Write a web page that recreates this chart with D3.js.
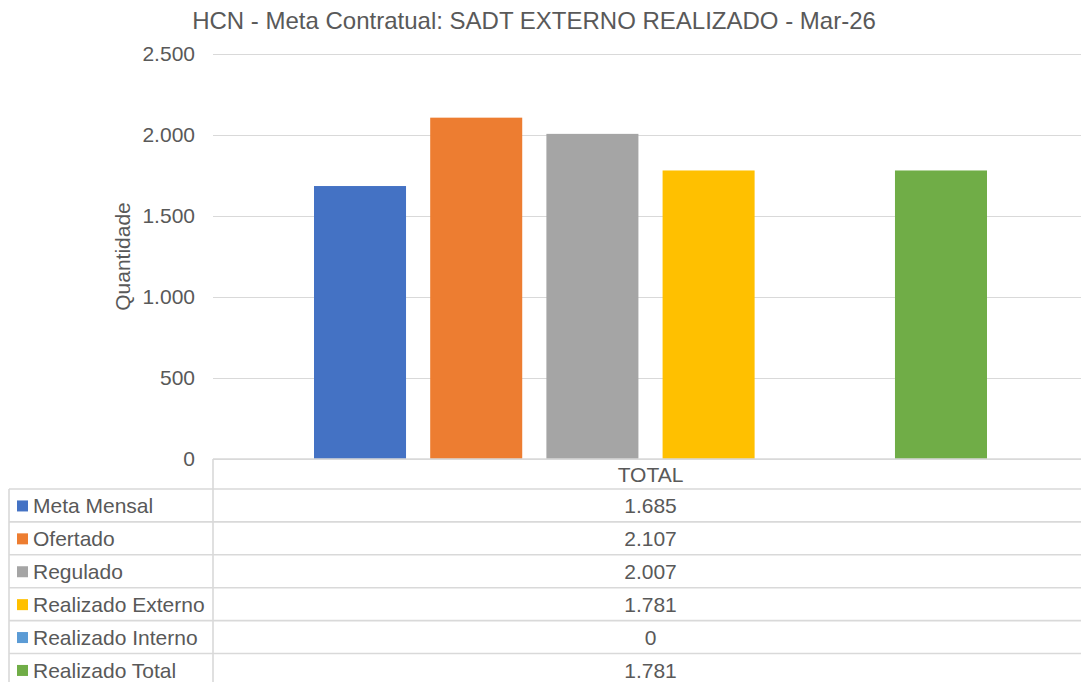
<!DOCTYPE html>
<html><head><meta charset="utf-8">
<script src="https://cdn.jsdelivr.net/npm/d3@7"></script>
<style>
html,body{margin:0;padding:0;background:#fff;}
svg{display:block;font-family:"Liberation Sans",Arial,sans-serif;}
</style></head>
<body><svg id="c" width="1081" height="682"></svg>
<script>
const title = "HCN - Meta Contratual: SADT EXTERNO REALIZADO - Mar-26";
const categories = ["TOTAL"];
const seriesNames = ["Meta Mensal","Ofertado","Regulado","Realizado Externo","Realizado Interno","Realizado Total"];
const seriesValues = [1685, 2107, 2007, 1781, 0, 1781];
const seriesColors = ["#4472C4","#ED7D31","#A5A5A5","#FFC000","#5B9BD5","#70AD47"];
const yTicks = [0,500,1000,1500,2000,2500];
const yTitle = "Quantidade";

const svg = d3.select("#c");
const W=1081, H=682;
const plot = {left:213, right:1088, top:54, bottom:459};
const txt = "#595959", grid="#d9d9d9";
const fs = 21;

const y = d3.scaleLinear().domain([0,2500]).range([plot.bottom, plot.top]);
const x0 = d3.scaleBand().domain(categories).range([plot.left, plot.right]);
const fmt = v => d3.format(",")(v).replace(/,/g,".");

// title
svg.append("text").attr("x",534).attr("y",29).attr("text-anchor","middle")
  .attr("font-size",24).attr("fill",txt).text(title);

// gridlines
const yAxis = d3.axisLeft(y).tickValues(yTicks).tickSize(-(W-plot.left)).tickFormat(fmt).tickPadding(18);
const ga = svg.append("g").attr("transform",`translate(${plot.left},0)`).call(yAxis);
ga.select(".domain").remove();
ga.selectAll(".tick line").attr("stroke",grid).attr("stroke-width",1);
ga.selectAll(".tick text").attr("font-size",fs).attr("fill",txt).attr("font-family","Liberation Sans, Arial, sans-serif");

// y title
svg.append("text").attr("transform",`translate(130,${(plot.top+plot.bottom)/2}) rotate(-90)`)
  .attr("text-anchor","middle").attr("font-size",fs).attr("fill",txt).text(yTitle);

// bars
const groupW = 673;
categories.forEach(cat=>{
  const cx = x0(cat)+x0.bandwidth()/2;
  const x1 = d3.scaleBand().domain(seriesNames).range([cx-groupW/2, cx+groupW/2]).paddingInner(0.208).paddingOuter(0);
  svg.append("g").selectAll("rect").data(seriesNames).join("rect")
    .attr("x",d=>x1(d)).attr("width",x1.bandwidth())
    .attr("y",(d,i)=>y(seriesValues[i])).attr("height",(d,i)=>plot.bottom-y(seriesValues[i]))
    .attr("fill",(d,i)=>seriesColors[i]);
});

// data table
const tbl = {left:9, right:W, top:459, headH:30, rowH:32.9};
const lines = svg.append("g").attr("stroke","#d9d9d9").attr("stroke-width",1.6).attr("fill","none");
lines.append("line").attr("x1",plot.left).attr("x2",W).attr("y1",tbl.top).attr("y2",tbl.top);
lines.append("line").attr("x1",plot.left).attr("x2",plot.left).attr("y1",tbl.top).attr("y2",H);
lines.append("line").attr("x1",tbl.left).attr("x2",tbl.left).attr("y1",tbl.top+tbl.headH).attr("y2",H);
seriesNames.forEach((s,i)=>{
  const yy = tbl.top+tbl.headH+i*tbl.rowH;
  lines.append("line").attr("x1",tbl.left).attr("x2",W).attr("y1",yy).attr("y2",yy);
});
categories.forEach(cat=>{
  const cx = x0(cat)+x0.bandwidth()/2;
  svg.append("text").attr("x",cx).attr("y",tbl.top+tbl.headH/2).attr("dy","0.36em")
    .attr("text-anchor","middle").attr("font-size",fs).attr("fill",txt).text(cat);
  seriesNames.forEach((s,i)=>{
    const cy = tbl.top+tbl.headH+i*tbl.rowH+tbl.rowH/2;
    svg.append("text").attr("x",cx).attr("y",cy).attr("dy","0.36em")
      .attr("text-anchor","middle").attr("font-size",fs).attr("fill",txt).text(fmt(seriesValues[i]));
  });
});
seriesNames.forEach((s,i)=>{
  const cy = tbl.top+tbl.headH+i*tbl.rowH+tbl.rowH/2;
  svg.append("rect").attr("x",17).attr("y",cy-5).attr("width",11).attr("height",11).attr("fill",seriesColors[i]);
  svg.append("text").attr("x",33).attr("y",cy).attr("dy","0.36em")
    .attr("font-size",fs).attr("fill",txt).text(s);
});
</script></body></html>
